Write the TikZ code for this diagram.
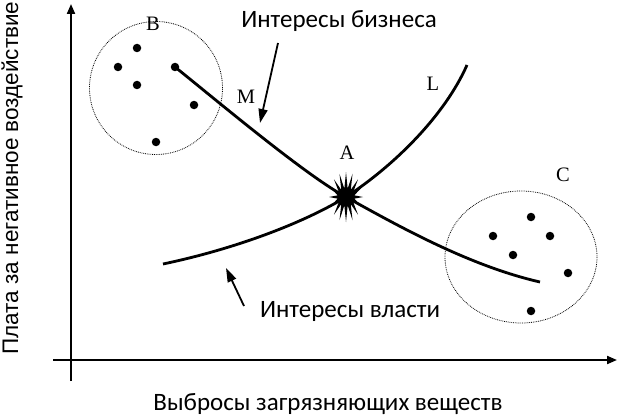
\documentclass[tikz,border=0pt]{standalone}
\usepackage{fontspec}
\setmainfont{Liberation Serif}
\newfontfamily\calfont{Carlito}
\newfontfamily\arifont{Liberation Sans}
\usetikzlibrary{arrows.meta}
\begin{document}
\begin{tikzpicture}[x=1pt,y=-1pt,
  axis/.style={line width=2pt,-{Triangle[length=10pt,width=8pt]}},
  curve/.style={line width=2.8pt},
  ptr/.style={line width=1.8pt,-{Triangle[length=14pt,width=9pt]}},
  grp/.style={draw,densely dotted,line width=0.8pt},
  dot/.style={circle,fill,inner sep=0pt,minimum size=8.5pt},
  letter/.style={inner sep=0pt,font=\fontsize{20.5}{24}\selectfont},
  lab/.style={font=\calfont\fontsize{25}{28}\selectfont}]
\useasboundingbox (0,0) rectangle (617,417);
% axes
\coordinate (o1) at (71,381);
\coordinate (o2) at (71,4);
\coordinate (x1) at (53,360);
\coordinate (x2) at (617,360);
\draw[axis] (o1) -- (o2);
\draw[axis] (x1) -- (x2);
\node[font=\arifont\fontsize{22.5}{24}\selectfont,rotate=90] (ylab) at (12,178) {Плата за негативное воздействие};
\node[lab] (xlab) at (328,404) {Выбросы загрязняющих веществ};
% groups
\node[grp,circle,minimum size=133pt] (gB) at (156,88) {};
\draw[grp] (521,257) ellipse [x radius=76, y radius=66];
\node[letter] (B) at (153,24) {B};
\node[letter] (C) at (563,175) {C};
% dots B
\foreach \p [count=\i] in {(137,48),(118,67),(137,85),(175,67),(194,105),(156,142)}
  \node[dot] (b\i) at \p {};
% dots C
\foreach \p [count=\i] in {(531,217),(493,236),(550,236),(513,255),(568,273),(531,311)}
  \node[dot] (c\i) at \p {};
% curves
\coordinate (A) at (346,197);
\draw[curve] (b4.center) .. controls (215,99) and (305,175) .. (A) .. controls (400,227) and (470,266) .. (540,282);
\draw[curve] (163,264) .. controls (230,250) and (300,225) .. (A) .. controls (395,165) and (445,115) .. (467,65);
% star at A
\fill[shift={(A)}] (17,0) \foreach \i in {1,...,31} { -- ({(mod(\i,2)==0 ? 17 : 8.5)*cos(\i*11.25)}, {(mod(\i,2)==0 ? 25 : 8.5)*sin(\i*11.25)}) } -- cycle;
\node[letter] (Alab) at (347,153) {A};
\node[letter] (M) at (246,97) {M};
\node[letter] (L) at (433,84) {L};
% labels with pointers
\node[lab] (biz) at (339,21) {Интересы бизнеса};
\node[lab] (gov) at (350,311) {Интересы власти};
\coordinate (bs) at (278,43);
\coordinate (bt) at (260,123);
\draw[ptr] (bs) -- (bt);
\coordinate (gs) at (244,306);
\coordinate (gt) at (226,268);
\draw[ptr] (gs) -- (gt);
\end{tikzpicture}
\end{document}
